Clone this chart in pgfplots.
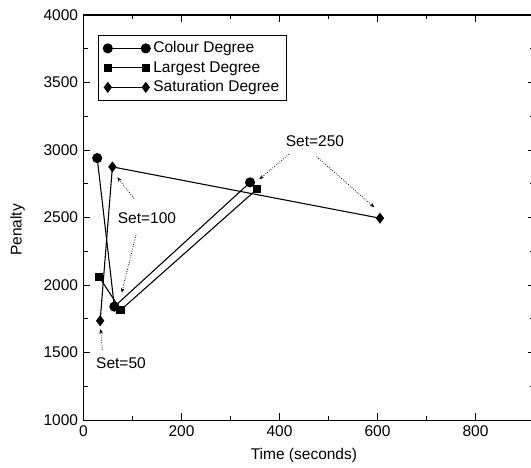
\documentclass[border=0pt]{standalone}
\usepackage{fontspec}
\setmainfont{Liberation Sans}
\usepackage{pgfplots}
\pgfplotsset{compat=1.18}
\usetikzlibrary{arrows.meta}

\begin{document}
\begin{tikzpicture}[arr/.style={densely dotted, line width=0.5pt, -{Stealth[length=3pt,width=2.4pt]}}]
\begin{axis}[
    scale only axis,
    width=290.8pt, height=261.3pt,
    xmin=0, xmax=920, ymin=1000, ymax=4000,
    xtick={0,200,...,800}, ytick={1000,1500,...,4000},
    minor x tick num=1, minor y tick num=1,
    tick align=inside,
    major tick length=4.3pt, minor tick length=2.6pt,
    /pgf/number format/assume math mode=true,
    /pgf/number format/1000 sep={},
    xlabel={Time (seconds)}, ylabel={Penalty},
    xlabel style={at={(rel axis cs:0.489,-0.0864)}, anchor=center},
    ylabel style={at={(rel axis cs:-0.1464,0.469)}, anchor=center},
    axis line style={line width=0.7pt},
    every tick/.style={black, line width=0.6pt},
    clip=false,
    legend style={at={(0.0326,0.9507)}, anchor=north west, draw=black,
        line width=0.6pt, cells={anchor=west}},
    legend image code/.code={\draw[mark repeat=1,mark phase=1,#1] plot coordinates {(0pt,0pt) (24.5pt,0pt)};},
]
\addplot[black, line width=0.7pt, mark=*, mark size=2.9pt, mark options={solid}]
    coordinates {(28,2940) (63,1840) (340,2760)};
\addplot[black, line width=0.7pt, mark=square*, mark size=2.4pt, mark options={solid}]
    coordinates {(32,2060) (76,1815) (354,2710)};
\addplot[black, line width=0.7pt, mark=diamond*, mark size=3pt, mark options={solid}]
    coordinates {(34,1735) (59,2875) (605,2495)};
\legend{Colour Degree, Largest Degree, Saturation Degree}

\node at (axis cs:76.5,1422) {Set=50};
\draw[arr] (axis cs:38.4,1519) -- (axis cs:35.1,1674);
\node at (axis cs:129.6,2494) {Set=100};
\draw[arr] (axis cs:103,2642) -- (axis cs:69,2798);
\draw[arr] (axis cs:107.1,2370) -- (axis cs:78,1943);
\node at (axis cs:472.4,3069) {Set=250};
\draw[arr] (axis cs:419.4,2970) -- (axis cs:358.8,2783);
\draw[arr] (axis cs:475.9,2950) -- (axis cs:593.5,2576);

\coordinate (bbl) at (axis cs:-170.4,652);
\coordinate (btr) at (axis cs:913.3,4111);
\end{axis}
\pgfresetboundingbox
\path[use as bounding box] (bbl) rectangle (btr);
\end{tikzpicture}
\end{document}
